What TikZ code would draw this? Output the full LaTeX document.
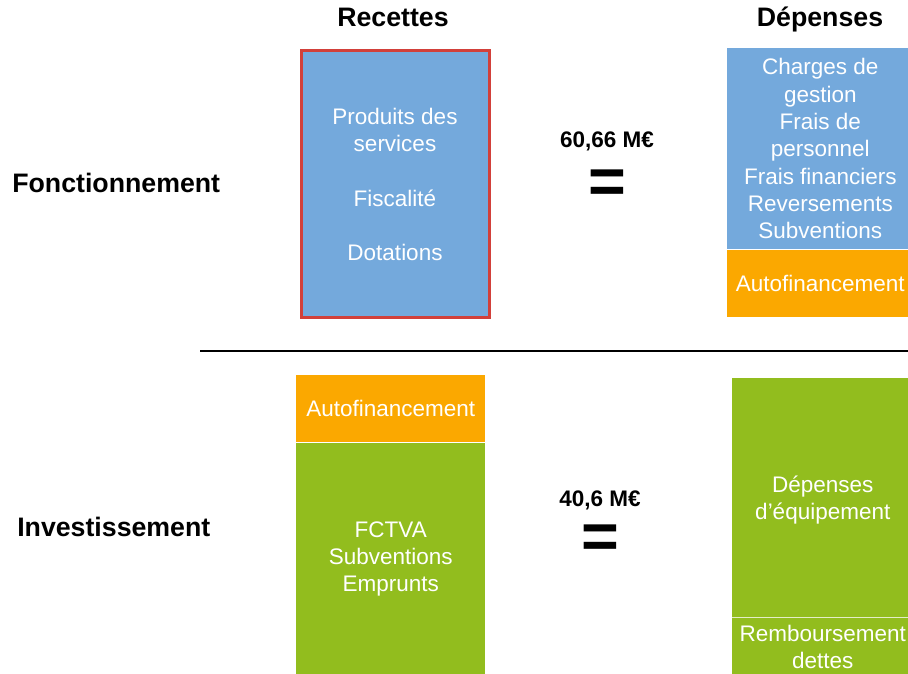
\documentclass[tikz,border=0pt]{standalone}
\usepackage{fontspec}
\setmainfont{Liberation Sans}
\usetikzlibrary{positioning}

\newlength{\px}
\setlength{\px}{0.025cm}

\definecolor{bleu}{HTML}{74A9DC}
\definecolor{orangeaf}{HTML}{FBA800}
\definecolor{vert}{HTML}{92BD1E}
\definecolor{rouge}{HTML}{D2403A}

\begin{document}
\begin{tikzpicture}[x=1\px,y=-1\px,
	bloc/.style={anchor=north west,inner sep=0pt,text=white,align=center,font=\fontsize{16}{19.4}\selectfont},
	titre/.style={anchor=base,inner sep=0pt,font=\fontsize{19}{22}\selectfont\bfseries},
	montant/.style={anchor=base,inner sep=0pt,font=\fontsize{16}{19}\selectfont\bfseries},
	egal/.style={inner sep=0pt,font=\fontsize{46}{46}\selectfont\bfseries}
	]

	\path[use as bounding box,clip] (0,0) rectangle (908,674);

	% fonctionnement
	\node[bloc,fill=bleu,draw=rouge,line width=3\px,minimum width=188\px,minimum height=267\px] (recF) at (299.5,49.5) {Produits des\\services\\[19.4pt]Fiscalité\\[19.4pt]Dotations};
	\node[bloc,fill=bleu,minimum width=186\px,minimum height=201\px] (depF) at (727,48) {Charges de\\gestion\\Frais de\\personnel\\Frais financiers\\Reversements\\Subventions};
	\node[bloc,fill=orangeaf,minimum width=186\px,minimum height=67\px,anchor=north] (autoF) at (depF.south) {Autofinancement};

	\node[titre] (recettes) at (393,27) {Recettes};
	\node[titre] (depenses) at (820,27) {Dépenses};
	\node[titre,anchor=base west] (fonct) at (12,193) {Fonctionnement};

	\node[montant] (mF) at (607,148) {60,66 M€};
	\node[egal,below=18\px of mF] (eqF) {=};

	\draw[line width=2\px] (200,351) -- (908,351);

	% investissement
	\node[bloc,fill=orangeaf,minimum width=189\px,minimum height=67\px] (autoI) at (296,375) {Autofinancement};
	\node[bloc,fill=vert,minimum width=189\px,minimum height=232\px,anchor=north] (recI) at (autoI.south) {FCTVA\\Subventions\\Emprunts};
	\node[bloc,fill=vert,minimum width=181\px,minimum height=244\px] (depI) at (732,378) {Dépenses\\d’équipement};
	\node[bloc,fill=vert,minimum width=181\px,minimum height=58\px,anchor=north,yshift=5\px] (remb) at (depI.south) {Remboursement\\dettes};
	\draw[white!75!vert,line width=1.5\px] (remb.north west) -- (remb.north east);

	\node[titre,anchor=base west] (invest) at (17,537) {Investissement};

	\node[montant] (mI) at (600,507) {40,6 M€};
	\node[egal,below=14\px of mI] (eqI) {=};
\end{tikzpicture}
\end{document}
